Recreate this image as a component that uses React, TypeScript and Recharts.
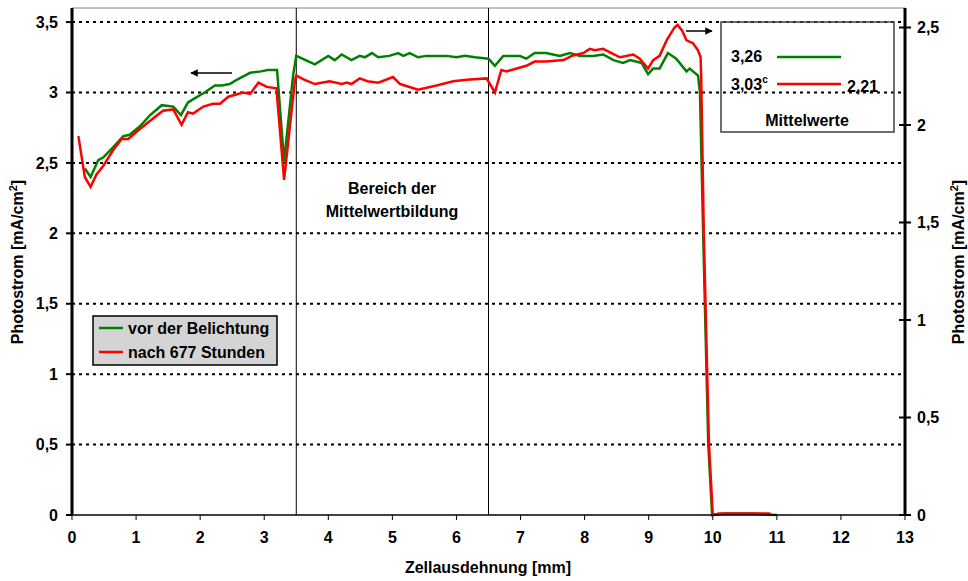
import React from 'react';
import { CartesianGrid, Line, LineChart, ReferenceLine, XAxis, YAxis } from 'recharts';

// Photostrom über Zellausdehnung, [x in mm, y in mA/cm²]
const vorDerBelichtung: [number, number][] = [
  [0.2, 2.46], [0.29, 2.4], [0.41, 2.52], [0.49, 2.54], [0.64, 2.61], [0.8, 2.69], [0.9, 2.7],
  [1.06, 2.76], [1.22, 2.84], [1.4, 2.91], [1.58, 2.9], [1.7, 2.84], [1.81, 2.93], [1.92, 2.96],
  [2.07, 3.0], [2.23, 3.05], [2.34, 3.05], [2.46, 3.06], [2.57, 3.09], [2.78, 3.14], [2.95, 3.15],
  [3.05, 3.16], [3.2, 3.16], [3.31, 2.51], [3.45, 3.12], [3.5, 3.26], [3.79, 3.2], [4.0, 3.26],
  [4.1, 3.23], [4.21, 3.27], [4.36, 3.23], [4.49, 3.26], [4.57, 3.25], [4.68, 3.28], [4.78, 3.25],
  [4.95, 3.26], [5.09, 3.28], [5.17, 3.26], [5.27, 3.28], [5.4, 3.25], [5.53, 3.26], [5.69, 3.26],
  [5.85, 3.26], [6.0, 3.25], [6.13, 3.26], [6.29, 3.25], [6.5, 3.24], [6.6, 3.19], [6.73, 3.26],
  [6.99, 3.26], [7.09, 3.24], [7.22, 3.28], [7.4, 3.28], [7.61, 3.26], [7.77, 3.28], [7.93, 3.26],
  [8.13, 3.26], [8.29, 3.27], [8.45, 3.23], [8.6, 3.21], [8.71, 3.23], [8.89, 3.21], [8.99, 3.13],
  [9.07, 3.17], [9.17, 3.17], [9.3, 3.28], [9.43, 3.24], [9.59, 3.15], [9.64, 3.17], [9.77, 3.12],
  [9.8, 3.0], [9.85, 2.0], [9.93, 0.5], [9.99, 0.0], [10.2, 0.01], [10.6, 0.01], [11.0, 0.0],
];

const nach677Stunden: [number, number][] = [
  [0.1, 2.69], [0.2, 2.4], [0.29, 2.33], [0.385, 2.42], [0.49, 2.48], [0.64, 2.59], [0.775, 2.67],
  [0.88, 2.67], [1.03, 2.73], [1.22, 2.8], [1.42, 2.87], [1.58, 2.88], [1.71, 2.77], [1.81, 2.86],
  [1.89, 2.85], [2.05, 2.9], [2.2, 2.92], [2.31, 2.92], [2.44, 2.97], [2.67, 3.0], [2.78, 2.99],
  [2.91, 3.07], [3.04, 3.04], [3.19, 3.03], [3.31, 2.38], [3.48, 3.09], [3.5, 3.12], [3.63, 3.09],
  [3.79, 3.06], [4.02, 3.08], [4.21, 3.06], [4.29, 3.07], [4.36, 3.06], [4.49, 3.1], [4.61, 3.08],
  [4.78, 3.07], [5.01, 3.11], [5.12, 3.06], [5.4, 3.02], [5.69, 3.05], [5.95, 3.08], [6.16, 3.09],
  [6.47, 3.1], [6.6, 3.0], [6.7, 3.16], [6.78, 3.15], [6.94, 3.17], [7.09, 3.19], [7.22, 3.22],
  [7.4, 3.22], [7.67, 3.23], [7.8, 3.26], [7.98, 3.28], [8.08, 3.31], [8.16, 3.3], [8.29, 3.31],
  [8.42, 3.28], [8.55, 3.25], [8.76, 3.27], [8.86, 3.24], [8.99, 3.17], [9.07, 3.23], [9.17, 3.26],
  [9.28, 3.37], [9.4, 3.46], [9.45, 3.48], [9.52, 3.44], [9.59, 3.37], [9.69, 3.35], [9.77, 3.3],
  [9.81, 3.25], [9.82, 3.09], [9.86, 2.0], [9.94, 0.51], [10.0, 0.0], [10.1, 0.01], [10.5, 0.01],
  [10.9, 0.01],
];

const xTicks = [0, 1, 2, 3, 4, 5, 6, 7, 8, 9, 10, 11, 12, 13];
const leftTicks = [0, 0.5, 1, 1.5, 2, 2.5, 3, 3.5];
const rightTicks = [0, 0.5, 1, 1.5, 2, 2.5];
const leftMax = 3.6;
const rightMax = 2.6;
const bereichGrenzen = [3.5, 6.5];

const mittelwertVor = '3,26';
const mittelwertNach = '3,03';
const mittelwertRechts = '2,21';

const toRows = (pts: [number, number][]) => pts.map(([x, y]) => ({ x, y }));
const komma = (v: number) => String(v).replace('.', ',');

const FONT = '"Liberation Sans", Arial, sans-serif';
const tickStyle = { fill: '#000', fontSize: 16, fontWeight: 'bold' as const };

function RightTick(props: any) {
  const { x, y, payload } = props;
  return (
    <g>
      <line x1={x - 6} x2={x + 6} y1={y} y2={y} stroke="#000" strokeWidth={2} />
      <text x={x + 12} y={y} dy="0.35em" fill="#000" fontSize={16} fontWeight="bold">
        {komma(payload.value)}
      </text>
    </g>
  );
}

export default function App() {
  return (
    <div style={{ position: 'absolute', left: 0, top: 0, width: 968, height: 581, background: '#fff', fontFamily: FONT }}>
      <LineChart width={968} height={581} margin={{ top: 8, right: 0, left: 0, bottom: 0 }}>
        <CartesianGrid yAxisId="left" horizontal vertical={false} stroke="#000" strokeWidth={2} strokeDasharray="3 4" horizontalValues={leftTicks.slice(1)} />
        <XAxis
          dataKey="x"
          type="number"
          domain={[0, 13]}
          ticks={xTicks}
          allowDuplicatedCategory={false}
          height={66}
          tick={tickStyle}
          tickSize={5}
          tickMargin={12}
          axisLine={{ stroke: '#000', strokeWidth: 1.5 }}
          tickLine={{ stroke: '#000' }}
        />
        <YAxis
          yAxisId="left"
          type="number"
          domain={[0, leftMax]}
          ticks={leftTicks}
          width={72}
          tick={tickStyle}
          tickFormatter={komma}
          tickSize={6}
          tickMargin={8}
          axisLine={{ stroke: '#000', strokeWidth: 3 }}
          tickLine={{ stroke: '#000', strokeWidth: 2 }}
        />
        <YAxis
          yAxisId="right"
          orientation="right"
          type="number"
          domain={[0, rightMax]}
          ticks={rightTicks}
          width={63}
          tick={<RightTick />}
          tickSize={0}
          tickMargin={0}
          axisLine={{ stroke: '#000', strokeWidth: 3 }}
          tickLine={false}
        />
        <ReferenceLine yAxisId="left" y={leftMax} stroke="#808080" strokeWidth={1} />
        {bereichGrenzen.map((g) => (
          <ReferenceLine key={g} yAxisId="left" x={g} stroke="#000" strokeWidth={1} />
        ))}
        <Line
          yAxisId="left"
          data={toRows(vorDerBelichtung)}
          dataKey="y"
          type="linear"
          stroke="#008000"
          strokeWidth={2.5}
          dot={false}
          isAnimationActive={false}
        />
        <Line
          yAxisId="left"
          data={toRows(nach677Stunden)}
          dataKey="y"
          type="linear"
          stroke="#ff0000"
          strokeWidth={2.5}
          dot={false}
          isAnimationActive={false}
        />
        <Line
          yAxisId="right"
          data={[{ x: 0, r: 0 }, { x: 13, r: rightMax }]}
          dataKey="r"
          stroke="none"
          dot={false}
          legendType="none"
          isAnimationActive={false}
        />
      </LineChart>

      <svg width={968} height={581} style={{ position: 'absolute', left: 0, top: 0, pointerEvents: 'none' }} fontFamily={FONT} fontWeight="bold" fontSize={16}>
        <defs>
          <marker id="pfeil" viewBox="0 0 10 10" refX="9" refY="5" markerWidth="5" markerHeight="5" orient="auto">
            <path d="M0,0 L10,5 L0,10 z" fill="#000" />
          </marker>
        </defs>
        {/* axis titles */}
        <text x={488} y={573} textAnchor="middle">Zellausdehnung [mm]</text>
        <text transform="translate(23,262) rotate(-90)" textAnchor="middle">
          <tspan>Photostrom [mA/cm</tspan>
          <tspan dy={-6} fontSize={11}>2</tspan>
          <tspan dy={6}>]</tspan>
        </text>
        <text transform="translate(964,262) rotate(-90)" textAnchor="middle">
          <tspan>Photostrom [mA/cm</tspan>
          <tspan dy={-6} fontSize={11}>2</tspan>
          <tspan dy={6}>]</tspan>
        </text>

        {/* arrows pointing to the axes */}
        <line x1={232} y1={73} x2={191} y2={73} stroke="#000" strokeWidth={1.5} markerEnd="url(#pfeil)" />
        <line x1={686} y1={31} x2={712} y2={31} stroke="#000" strokeWidth={1.5} markerEnd="url(#pfeil)" />

        {/* Bereich der Mittelwertbildung */}
        <text x={392} y={194} textAnchor="middle">Bereich der</text>
        <text x={392} y={217} textAnchor="middle">Mittelwertbildung</text>

        {/* Mittelwerte box */}
        <rect x={721} y={22} width={173} height={110} fill="none" stroke="#404040" strokeWidth={1.5} />
        <text x={731} y={62}>{mittelwertVor}</text>
        <line x1={777} x2={841} y1={57} y2={57} stroke="#008000" strokeWidth={2.5} />
        <text x={731} y={90}>
          {mittelwertNach}
          <tspan dy={-7} fontSize={10}>c</tspan>
        </text>
        <line x1={777} x2={841} y1={84} y2={84} stroke="#ff0000" strokeWidth={2.5} />
        <text x={847} y={92}>{mittelwertRechts}</text>
        <text x={807} y={126} textAnchor="middle">Mittelwerte</text>

        {/* series legend */}
        <rect x={93} y={316} width={184} height={49} fill="#d4d4d4" stroke="#000" strokeWidth={1.5} />
        <line x1={99} x2={123} y1={328} y2={328} stroke="#008000" strokeWidth={2.5} />
        <text x={128} y={334}>vor der Belichtung</text>
        <line x1={99} x2={123} y1={352} y2={352} stroke="#ff0000" strokeWidth={2.5} />
        <text x={128} y={358}>nach 677 Stunden</text>
      </svg>
    </div>
  );
}
